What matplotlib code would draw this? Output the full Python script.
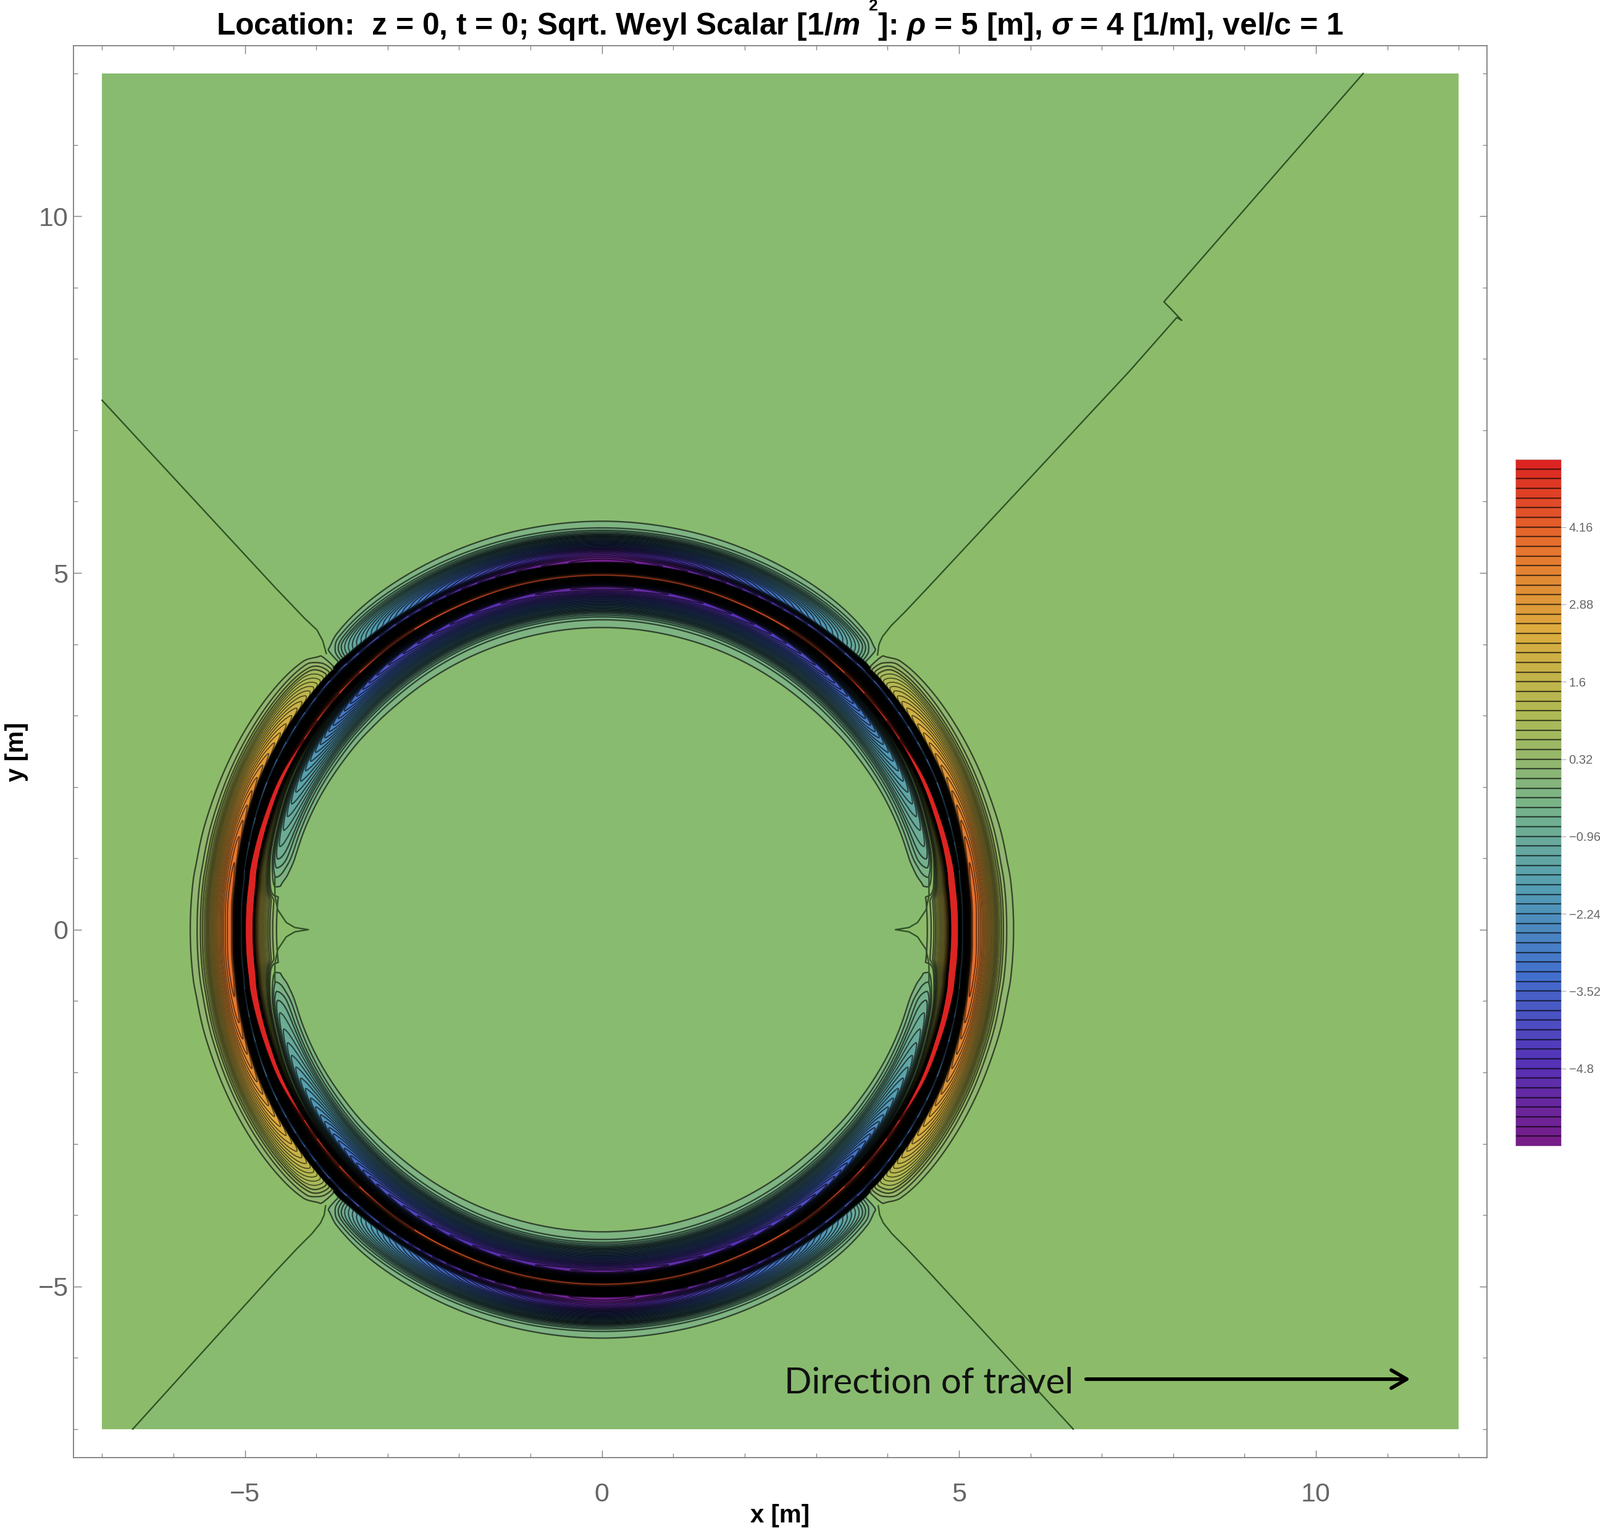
import numpy as np
import matplotlib
matplotlib.use("Agg")
import matplotlib.pyplot as plt
from matplotlib.colors import ListedColormap, BoundaryNorm, LinearSegmentedColormap
from matplotlib.cm import ScalarMappable
from matplotlib.patches import Polygon, Rectangle

plt.rcParams['font.family'] = ['Liberation Sans', 'DejaVu Sans']
plt.rcParams['mathtext.fontset'] = 'custom'
plt.rcParams['mathtext.rm'] = 'Liberation Sans:bold'
plt.rcParams['mathtext.it'] = 'Liberation Sans:italic:bold'
plt.rcParams['mathtext.bf'] = 'Liberation Sans:bold'

W, H = 2591, 2475

# ---- data: ring structure versus angle (first quadrant, degrees from x axis)
angle_deg   = [0,    5,    7,    10,   13,   18,   25,   33,   38,   42,   45,   48,   55,   65,   78,   90]
r_inner_edge= [4.56, 4.56, 4.56, 4.47, 4.42, 4.40, 4.37, 4.33, 4.31, 4.29, 4.28, 4.27, 4.26, 4.25, 4.24, 4.24]
r_inner     = [4.60, 4.60, 4.61, 4.63, 4.65, 4.67, 4.70, 4.72, 4.73, 4.74, 4.75, 4.76, 4.77, 4.78, 4.79, 4.79]
v_inner     = [0.30, 0.30, -0.1, -0.4, -0.7, -1.0, -1.5, -2.2, -2.8, -3.2, -3.5, -3.8, -4.2, -4.7, -5.1, -5.35]
r_mid       = [4.94, 4.94, 4.94, 4.95, 4.95, 4.95, 4.96, 4.95, 4.95, 4.95, 4.95, 4.95, 4.96, 4.96, 4.97, 4.97]
v_mid       = [6.0,  6.0,  6.0,  5.95, 5.9,  5.75, 5.55, 5.1,  4.9,  4.8,  4.7,  4.6,  4.5,  4.45, 4.4,  4.4]
w_mid       = [.045, .045, .044, .04,  .035, .03,  .025, .02,  .02,  .02,  .02,  .02,  .02,  .02,  .02,  .02]
r_thin      = [5.04, 5.05, 5.05, 5.07, 5.08, 5.10, 5.13, 5.15, 5.16, 5.17, 5.17, 5.16, 5.16, 5.16, 5.16, 5.16]
v_thin      = [-2.0, -2.0, -2.0, -2.1, -2.2, -2.4, -2.6, -3.0, -3.3, -3.5, -3.6, -3.8, -4.1, -4.8, -5.5, -5.85]
r_crest     = [5.21, 5.22, 5.22, 5.23, 5.24, 5.26, 5.28, 5.28, 5.28, 5.28, 5.27, 5.26, 5.25, 5.25, 5.25, 5.25]
v_crest     = [3.95, 3.95, 3.93, 3.85, 3.75, 3.45, 2.95, 2.25, 1.65, 0.85, 0.0,  -1.0, -2.2, -3.4, -4.6, -5.4]
r_outer_edge= [5.76, 5.76, 5.76, 5.75, 5.75, 5.74, 5.73, 5.71, 5.68, 5.62, 5.47, 5.56, 5.64, 5.68, 5.71, 5.72]

tail_position = [0.0, 0.19, 0.33, 0.50, 0.72, 0.90]
tail_fraction = [0.0, 0.03, 0.11, 0.36, 0.70, 0.93]

# zero contour pieces (x, y in metres)
ray_tr_x = [3.86, 3.88, 3.93, 4.05, 4.25, 4.57, 7.39, 8.05, 8.12, 7.95, 7.87, 10.66]
ray_tr_y = [3.85, 4.00, 4.11, 4.26, 4.46, 4.80, 7.83, 8.58, 8.54, 8.72, 8.80, 12.0]
ray_tl_x = [-3.86, -3.91, -3.99, -4.17, -4.58, -7.0]
ray_tl_y = [3.87, 4.05, 4.20, 4.37, 4.80, 7.42]
ray_br_x = [3.87, 3.89, 3.94, 4.06, 4.26, 4.58, 6.60]
ray_br_y = [-3.87, -4.00, -4.11, -4.26, -4.46, -4.80, -7.0]
ray_bl_x = [-3.87, -3.89, -3.94, -4.06, -4.26, -4.58, -6.57]
ray_bl_y = [-3.87, -4.00, -4.11, -4.26, -4.46, -4.80, -7.0]
cusp_x = [-4.58, -4.58, -4.54, -4.42, -4.30, -4.11, -4.30, -4.42, -4.54, -4.58, -4.58]
cusp_y = [0.75, 0.48, 0.28, 0.10, 0.03, 0.0, -0.03, -0.10, -0.28, -0.48, -0.75]

x_ticks = [-5, 0, 5, 10]
y_ticks = [-5, 0, 5, 10]
bar_ticks = [-4.8, -3.52, -2.24, -0.96, 0.32, 1.6, 2.88, 4.16]
bar_labels = ['\u22124.8', '\u22123.52', '\u22122.24', '\u22120.96', '0.32', '1.6', '2.88', '4.16']
level_index_low, level_index_high = -38, 33
level_step = 0.16

rainbow_nodes = [(0.471, 0.109, 0.527), (0.33, 0.20, 0.72), (0.26, 0.44, 0.80), (0.33, 0.62, 0.70),
                 (0.47, 0.70, 0.53), (0.68, 0.73, 0.33), (0.86, 0.67, 0.24), (0.90, 0.45, 0.18),
                 (0.86, 0.13, 0.13)]
green_top, green_side = '#88bb6f', '#8cbc69'
title_text = (r'Location:  z = 0, t = 0; Sqrt. Weyl Scalar [1/$\mathit{m}\ \ $]: '
              r'$\rho$ = 5 [m], $\sigma$ = 4 [1/m], vel/c = 1')


def pchip(x, y, xi):
    x = np.asarray(x); y = np.asarray(y)
    h = np.diff(x); d = np.diff(y) / h
    m = np.zeros_like(y)
    for i in range(1, len(x) - 1):
        if d[i - 1] * d[i] > 0:
            w1 = 2 * h[i] + h[i - 1]; w2 = h[i] + 2 * h[i - 1]
            m[i] = (w1 + w2) / (w1 / d[i - 1] + w2 / d[i])
    k = np.clip(np.searchsorted(x, xi) - 1, 0, len(h) - 1)
    t = (xi - x[k]) / h[k]
    return ((2*t**3 - 3*t**2 + 1) * y[k] + (t**3 - 2*t**2 + t) * h[k] * m[k]
            + (-2*t**3 + 3*t**2) * y[k+1] + (t**3 - t**2) * h[k] * m[k+1])


def table(col, ang):
    return pchip(angle_deg, col, ang)


r_grid = np.linspace(3.4, 6.4, 1700)
a_grid = np.arange(0, 90.25, 0.25)
Zq = np.zeros((len(a_grid), len(r_grid)))
tp = np.array(tail_position); tf = np.array(tail_fraction)
cols = [table(c, a_grid) for c in (r_inner_edge, r_inner, v_inner, r_mid, v_mid, w_mid, r_thin, v_thin,
                                   r_crest, v_crest, r_outer_edge)]
for i in range(len(a_grid)):
    re, ri, vi, rm, vm, wm, rn, vn, rc, vc, ro = [c[i] for c in cols]
    ve = np.sign(vi) * min(0.165, abs(vi) * 0.9)
    vo = np.sign(vc) * min(0.165, abs(vc) * 0.9)
    qi = np.clip(abs(vi) / 5.4, 0.15, 1) ** 0.5
    qo = np.clip(abs(vc) / 5.4, 0.15, 1) ** 0.5
    in_r = re + tp * (ri - re)
    in_v = ve + tf ** qi * (vi - ve)
    out_r = ro + tp * (rc - ro)
    out_v = vo + tf ** qo * (vc - vo)
    sh1_r, sh1_v = rm - wm - 0.03, vi + 0.5 * (vm - vi)
    sh2_r, sh2_v = 0.5 * (rm + ri), vi + 0.22 * (vm - vi)
    xk = [3.4, re - 0.25, *in_r, ri, sh2_r, sh1_r, rm - wm, rm, rm + wm, rn]
    yk = [0, 0, *in_v, vi, sh2_v, sh1_v, vm - 0.3, vm, vm - 0.3, vn]
    if vc > 0.2:
        xk.append(rc - 0.03); yk.append(vc * 0.95)
    xk += [rc, *out_r[::-1], ro + 0.25, 6.4]
    yk += [vc, *out_v[::-1], 0, 0]
    Zq[i] = pchip(xk, yk, r_grid)

full_angle = np.arange(0, 360.25, 0.25)
fold = np.abs(((full_angle + 90) % 180) - 90)
idx = np.round(fold / 0.25).astype(int)
Z = Zq[idx]
R, T = np.meshgrid(r_grid, np.deg2rad(full_angle))
X = R * np.cos(T); Y = R * np.sin(T)

lv = level_step * np.arange(level_index_low, level_index_high + 1)
Z = np.clip(Z, lv[0] + 0.001, lv[-1] - 0.001)
base = LinearSegmentedColormap.from_list('rainbow', rainbow_nodes)
mid_vals = (lv[:-1] + lv[1:]) / 2
opaque = base((mid_vals - lv[0]) / (lv[-1] - lv[0]))
clear = opaque.copy()
clear[np.abs(mid_vals) < 0.16, 3] = 0.0
norm = BoundaryNorm(lv, len(mid_vals))

fig = plt.figure(figsize=(W / 100, H / 100), dpi=100, facecolor='white')
ax = fig.add_axes([119 / W, 1 - 2361 / H, (2407.5 - 119) / W, (2361 - 74) / H])
ax.set_xlim(-7.4, 12.39)
ax.set_ylim(-7.4, 12.39)

ax.add_patch(Rectangle((-7, -7), 19, 19, fc=green_side, ec='none', zorder=0))
poly = (list(zip(ray_tl_x[::-1], ray_tl_y[::-1])) + list(zip(cusp_x, cusp_y))
        + list(zip(ray_bl_x, ray_bl_y)) + list(zip(ray_br_x[::-1], ray_br_y[::-1]))
        + [(-x, y) for x, y in zip(cusp_x, cusp_y)][::-1]
        + list(zip(ray_tr_x, ray_tr_y)) + [(-7, 12)])
ax.add_patch(Polygon(poly, closed=True, fc=green_top, ec='none', zorder=0.5))

line_black = (0, 0, 0, 0.62)
lw_line = 1.6
cf = ax.contourf(X, Y, Z, levels=lv, colors=[tuple(c) for c in clear], zorder=1)
line_levels = lv[1:-1][np.abs(lv[1:-1]) > 1e-6]
line_widths = [1.7 if abs(v) < 0.7 else (1.45 if v < 0 else 1.15) for v in line_levels]
ax.contour(X, Y, Z, levels=line_levels, colors=[line_black], linewidths=line_widths, zorder=2,
           linestyles='solid')

for xs, ys in ((ray_tr_x, ray_tr_y), (ray_tl_x, ray_tl_y), (ray_br_x, ray_br_y), (ray_bl_x, ray_bl_y),
               (cusp_x, cusp_y), ([-v for v in cusp_x], cusp_y)):
    ax.plot(xs, ys, color=(0.19, 0.32, 0.15), lw=1.7, zorder=3, solid_joinstyle='round')

ax.annotate('', xy=(11.32, -6.3), xytext=(6.78, -6.3), zorder=5,
            arrowprops=dict(arrowstyle='->,head_length=0.6,head_width=0.35', color='black', lw=4.2,
                            shrinkA=0, shrinkB=0, mutation_scale=30))
ax.text(6.6, -6.36, 'Direction of travel', ha='right', va='center', fontsize=42, family='Lato',
        color='#111111', zorder=5)

gray = '#7f7f7f'
for s in ax.spines.values():
    s.set_color(gray); s.set_linewidth(1.3)
ax.set_xticks(x_ticks); ax.set_yticks(y_ticks)
ax.set_xticks(np.arange(-7, 13), minor=True); ax.set_yticks(np.arange(-7, 13), minor=True)
ax.tick_params(which='major', direction='in', length=9, width=1.0, color=gray, top=True, right=True,
               labelsize=31, labelcolor='#666666')
ax.tick_params(which='minor', direction='in', length=5, width=0.9, color=gray, top=True, right=True)
ax.tick_params(axis='x', which='major', pad=29)
ax.tick_params(axis='y', which='major', pad=6)
ax.set_xticklabels(['\u22125', '0', '5', '10'])
ax.set_yticklabels(['\u22125', '0', '5', '10'])

fig.text(1263 / W, 1 - 2455 / H, 'x [m]', ha='center', va='center', fontsize=29, fontweight='bold')
fig.text(27 / W, 1 - 1218 / H, 'y [m]', ha='center', va='center', rotation=90, fontsize=29, fontweight='bold')
fig.text(1263 / W, 1 - 43 / H, title_text, ha='center', va='center', fontsize=35.8, fontweight='bold')
fig.text(1413 / W, 1 - 10 / H, '2', ha='center', va='center', fontsize=19, fontweight='bold')

cax = fig.add_axes([2454 / W, 1 - 1856 / H, 74 / W, (1856 - 744) / H])
sm = ScalarMappable(norm=norm, cmap=ListedColormap(opaque))
cb = fig.colorbar(sm, cax=cax, spacing='proportional')
cb.set_ticks(bar_ticks, labels=bar_labels)
cb.minorticks_off()
cax.hlines(lv[1:-1], 0, 1, transform=cax.get_yaxis_transform(), colors=[line_black], linewidths=lw_line)
cb.outline.set_edgecolor('#c8c8c8'); cb.outline.set_linewidth(0.6)
cax.tick_params(axis='y', length=6, width=0.8, color='#aaaaaa', labelsize=14.5, labelcolor='#666666', pad=3)

fig.savefig('out.png', dpi=100, facecolor='white')
